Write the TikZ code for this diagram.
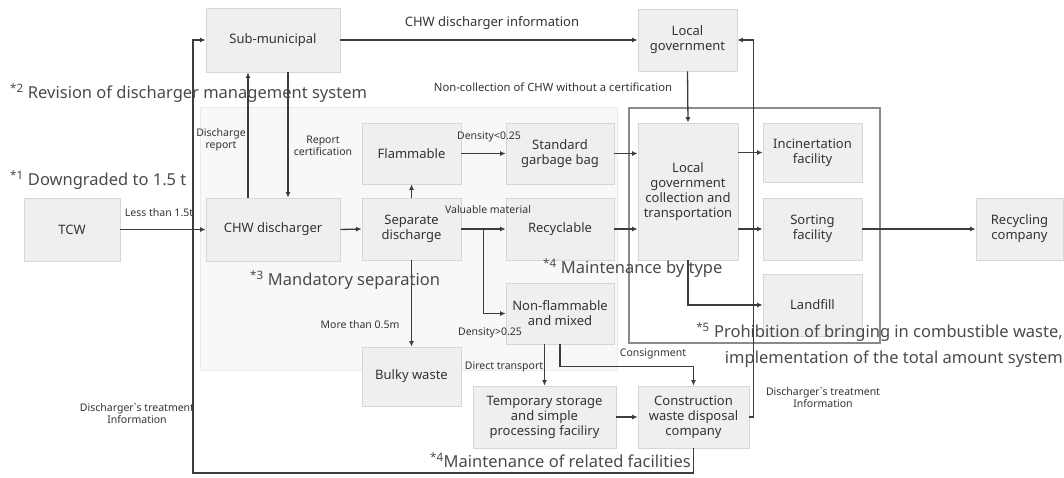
\documentclass[tikz,border=0pt]{standalone}
\usepackage{fontspec}
\setmainfont{Noto Sans}
\usetikzlibrary{arrows.meta}
\definecolor{boxfill}{HTML}{EFEFEF}
\definecolor{boxline}{HTML}{D6D6D6}
\definecolor{txt}{HTML}{333333}
\definecolor{anntxt}{HTML}{4A4A4A}
\definecolor{arrc}{HTML}{3C3C3C}
\definecolor{regfill}{HTML}{F8F8F8}
\definecolor{regline}{HTML}{EBEBEB}
\definecolor{outl}{HTML}{8A8A8A}
\begin{document}
\begin{tikzpicture}[x=1pt,y=-1pt,
  box/.style={draw=boxline, fill=boxfill, line width=0.8pt, text=txt, font=\fontsize{13}{15}\selectfont, align=center, inner sep=1pt},
  arr/.style={draw=arrc, line width=1.3pt, -{Latex[length=5.5pt,width=5pt]}},
  lab/.style={text=txt, font=\fontsize{10.5}{12}\selectfont, inner sep=0pt, align=center},
  ann/.style={text=anntxt, font=\fontsize{16.5}{26}\selectfont, inner sep=0pt, align=right}]
\useasboundingbox (0,0) rectangle (1064,478);
% background region
\draw[fill=regfill, draw=regline, line width=0.8pt] (200,107) rectangle (617,370);
% outlined rectangle
\draw[draw=outl, line width=1.2pt] (629,108) rectangle (880,343);
% nodes
\node[box, minimum width=134pt, minimum height=64pt] (sub) at (273,40) {Sub-municipal};
\node[box, minimum width=99pt, minimum height=62pt] (lg) at (687.5,40) {Local\\government};
\node[box, minimum width=96pt, minimum height=63pt] (tcw) at (72,229.5) {TCW};
\node[box, minimum width=134pt, minimum height=63pt] (chw) at (273,229.5) {CHW discharger};
\node[box, minimum width=99pt, minimum height=62pt] (sep) at (411.5,229) {Separate\\discharge};
\node[box, minimum width=99pt, minimum height=61pt] (flam) at (411.5,153.5) {Flammable};
\node[box, minimum width=108pt, minimum height=61pt] (sgb) at (560,153.5) {Standard\\garbage bag};
\node[box, minimum width=108pt, minimum height=62pt] (rec) at (560,229) {Recyclable};
\node[box, minimum width=108pt, minimum height=61pt] (nonf) at (560,313.5) {Non-flammable\\and mixed};
\node[box, minimum width=99pt, minimum height=59pt] (bulky) at (411.5,376.5) {Bulky waste};
\node[box, minimum width=143pt, minimum height=62pt] (temp) at (544.5,417) {Temporary storage\\and simple\\processing faciliry};
\node[box, minimum width=111pt, minimum height=62pt] (cwd) at (693.5,417) {Construction\\waste disposal\\company};
\node[box, minimum width=100pt, minimum height=137pt] (lgct) at (688,191.5) {Local\\government\\collection and\\transportation};
\node[box, minimum width=99pt, minimum height=59pt] (inc) at (812.5,152.5) {Incinertation\\facility};
\node[box, minimum width=99pt, minimum height=62pt] (sort) at (812.5,229) {Sorting\\facility};
\node[box, minimum width=99pt, minimum height=62pt] (land) at (812.5,305) {Landfill};
\node[box, minimum width=87pt, minimum height=62pt] (recco) at (1019.5,229) {Recycling\\company};
\coordinate (loopc) at (193,473);
% connectors
\draw[arr] (tcw.east) -- (chw.west);
\draw[arr] (sub.east) -- (lg.west);
\draw[arr] ([xshift=-25pt]chw.north) -- ([xshift=-25pt]chw.north |- sub.south);
\draw[arr] ([xshift=15pt]sub.south) -- ([xshift=15pt]sub.south |- chw.north);
\draw[arr] (cwd.south) |- (loopc) |- (sub.west);
\draw[arr] (cwd.east) -- ++(4,0) |- (lg.east);
\draw[arr] (lg.south) -- (lgct.north);
\draw[arr] (chw.east) -- (sep.west);
\draw[arr] (sep.north) -- (flam.south);
\draw[arr] (flam.east) -- (sgb.west);
\draw[arr] (sep.east) -- (rec.west);
\draw[arr] ([xshift=22pt]sep.east) |- (nonf.west);
\draw[arr] (sep.south) -- (bulky.north);
\draw[arr] (temp.north |- nonf.south) -- (temp.north);
\draw[arr] (nonf.south) -- ++(0,22) -| (cwd.north);
\draw[arr] (temp.east) -- (cwd.west);
\draw[arr] (sgb.east) -- (sgb.east -| lgct.west);
\draw[arr] (rec.east) -- (rec.east -| lgct.west);
\draw[arr] (inc.west -| lgct.east) -- (inc.west);
\draw[arr] (sort.west -| lgct.east) -- (sort.west);
\draw[arr] (lgct.south) |- (land.west);
\draw[arr] (sort.east) -- (recco.west);
% connector labels
\node[lab] (l1) at (159,213) {Less than 1.5t};
\node[lab, font=\fontsize{13}{15}\selectfont] (l2) at (492,23) {CHW discharger information};
\node[lab] (l3) at (221,140) {Discharge\\report};
\node[lab] (l4) at (323,146) {Report\\certification};
\node[lab, font=\fontsize{11.3}{13}\selectfont] (l5) at (553,87) {Non-collection of CHW without a certification};
\node[lab] (l6) at (489,137) {Density<0.25};
\node[lab] (l7) at (488,210) {Valuable material};
\node[lab] (l8) at (490,333) {Density>0.25};
\node[lab] (l9) at (360,325) {More than 0.5m};
\node[lab] (l10) at (504,367) {Direct transport};
\node[lab] (l11) at (653,354) {Consignment};
\node[lab] (l12) at (137,414) {Discharger\textasciigrave s treatment\\Information};
\node[lab] (l13) at (823,398) {Discharger\textasciigrave s treatment\\Information};
% annotations
\node[ann, anchor=west] (a2) at (10,93) {\textsuperscript{*2} Revision of discharger management system};
\node[ann, anchor=west] (a1) at (10,180) {\textsuperscript{*1} Downgraded to 1.5 t};
\node[ann, anchor=west] (a3) at (250,280) {\textsuperscript{*3} Mandatory separation};
\node[ann, anchor=west] (a4) at (543,268) {\textsuperscript{*4} Maintenance by type};
\node[ann, anchor=east] (a5) at (1063,345) {\textsuperscript{*5} Prohibition of bringing in combustible waste,\\implementation of the total amount system};
\node[ann, anchor=west] (a6) at (430,460) {\textsuperscript{*4}Maintenance of related facilities};
\end{tikzpicture}
\end{document}
